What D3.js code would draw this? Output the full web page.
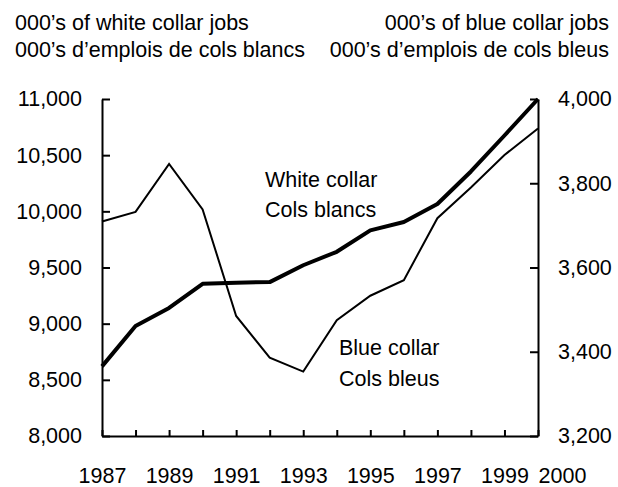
<!DOCTYPE html>
<html>
<head>
<meta charset="utf-8">
<script src="https://cdn.jsdelivr.net/npm/d3@7"></script>
<style>
  body { margin: 0; background: #fff; }
  text { font-family: "Liberation Sans", Arial, sans-serif; fill: #000; }
</style>
</head>
<body>
<div id="container"></div>
<script>
const width = 618;
const height = 487;

const years = [1987, 1988, 1989, 1990, 1991, 1992, 1993, 1994, 1995, 1996, 1997, 1998, 1999, 2000];
// white collar, thousands (left axis)
const whiteCollar = [8620, 8980, 9140, 9355, 9365, 9370, 9520, 9640, 9830, 9905, 10065, 10355, 10675, 11000];
// blue collar, thousands (right axis)
const blueCollar = [3709, 3732, 3846, 3738, 3485, 3386, 3353, 3475, 3533, 3570, 3717, 3790, 3867, 3930];

const leftTicks = [8000, 8500, 9000, 9500, 10000, 10500, 11000];
const rightTicks = [3200, 3400, 3600, 3800, 4000];
const yearLabels = [1987, 1989, 1991, 1993, 1995, 1997, 1999, 2000];

const margin = { top: 99, right: 80, bottom: 51, left: 102 };
const FONT = '21.5px';

let svg = d3.select('#container').append('svg')
    .attr('width', width)
    .attr('height', height);

let x = d3.scaleLinear().domain([1987, 2000]).range([margin.left, width - margin.right]);
let yL = d3.scaleLinear().domain([8000, 11000]).range([height - margin.bottom, margin.top]);
let yR = d3.scaleLinear().domain([3200, 4000]).range([height - margin.bottom, margin.top]);

const fmt = d3.format(',');

// left axis
let gl = svg.append('g')
    .attr('transform', `translate(${margin.left},0)`)
    .call(d3.axisLeft(yL).tickValues(leftTicks).tickFormat(fmt).tickSizeInner(-8).tickSizeOuter(0).tickPadding(20));

// right axis
let gr = svg.append('g')
    .attr('transform', `translate(${width - margin.right},0)`)
    .call(d3.axisRight(yR).tickValues(rightTicks).tickFormat(fmt).tickSizeInner(-8).tickSizeOuter(0).tickPadding(20));

// bottom axis
let gb = svg.append('g')
    .attr('transform', `translate(0,${height - margin.bottom})`)
    .call(d3.axisBottom(x).tickValues(years).tickSizeInner(-6).tickSizeOuter(0).tickPadding(0)
        .tickFormat(d => yearLabels.includes(d) ? d : ''));

gb.selectAll('.tick text')
    .attr('dy', 0)
    .attr('y', 47)
    .attr('dx', d => d === 2000 ? 24 : 0);

[gl, gr, gb].forEach(g => {
    g.select('.domain').attr('stroke', '#000').attr('stroke-width', 2);
    g.selectAll('.tick line').attr('stroke', '#000').attr('stroke-width', 2);
    g.selectAll('.tick text').style('font-size', FONT).attr('fill', '#000');
});

// lines
let lineL = d3.line().x((d, i) => x(years[i])).y(d => yL(d));
let lineR = d3.line().x((d, i) => x(years[i])).y(d => yR(d));

svg.append('path')
    .datum(blueCollar)
    .attr('fill', 'none')
    .attr('stroke', '#000')
    .attr('stroke-width', 2)
    .attr('d', lineR);

svg.append('path')
    .datum(whiteCollar)
    .attr('fill', 'none')
    .attr('stroke', '#000')
    .attr('stroke-width', 4)
    .attr('stroke-linejoin', 'round')
    .attr('d', lineL);

// titles
let titles = [
    { t: "000\u2019s of white collar jobs", x: 15, y: 30, a: 'start' },
    { t: "000\u2019s d\u2019emplois de cols blancs", x: 15, y: 57, a: 'start' },
    { t: "000\u2019s of blue collar jobs", x: 609, y: 30, a: 'end' },
    { t: "000\u2019s d\u2019emplois de cols bleus", x: 609, y: 57, a: 'end' }
];
svg.selectAll('text.title')
    .data(titles)
    .join('text')
    .attr('class', 'title')
    .attr('x', d => d.x)
    .attr('y', d => d.y)
    .attr('text-anchor', d => d.a)
    .style('font-size', FONT)
    .text(d => d.t);

// series labels
let labels = [
    { t: 'White collar', x: 265, y: 187 },
    { t: 'Cols blancs', x: 265, y: 217 },
    { t: 'Blue collar', x: 339, y: 355 },
    { t: 'Cols bleus', x: 339, y: 386 }
];
svg.selectAll('text.lab')
    .data(labels)
    .join('text')
    .attr('class', 'lab')
    .attr('x', d => d.x)
    .attr('y', d => d.y)
    .style('font-size', FONT)
    .text(d => d.t);
</script>
</body>
</html>
